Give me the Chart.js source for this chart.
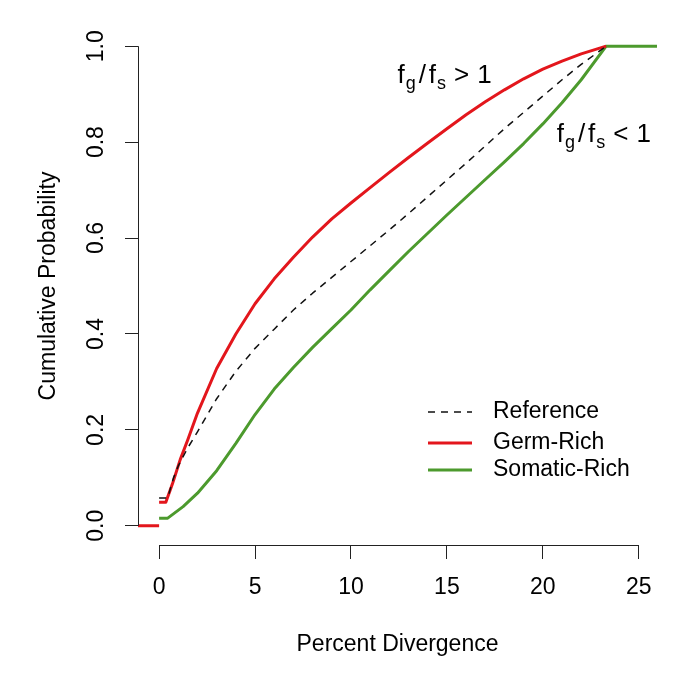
<!DOCTYPE html>
<html>
<head>
<meta charset="utf-8">
<script src="https://cdn.jsdelivr.net/npm/chart.js@4.4.1/dist/chart.umd.min.js"></script>
<style>
  html, body { margin: 0; padding: 0; background: #fff; }
  #wrap { width: 685px; height: 685px; }
</style>
</head>
<body>
<div id="wrap"><canvas id="ecdfChart"></canvas></div>
<script>
const xTicks = [0, 5, 10, 15, 20, 25]
const xTickLabels = ['0', '5', '10', '15', '20', '25']
const yTicks = [0, 0.2, 0.4, 0.6, 0.8, 1.0]
const yTickLabels = ['0.0', '0.2', '0.4', '0.6', '0.8', '1.0']

const seriesNames = ['Reference', 'Germ-Rich', 'Somatic-Rich']

// percent divergence (x) vs cumulative probability (y)
const refX = [0, 0.45, 0.75, 1, 1.5, 2, 3, 4, 5, 6, 7, 8, 9, 10, 11, 12, 13, 14, 15, 16, 17, 18, 19, 20, 21, 22, 23.3]
const refY = [0.058, 0.058, 0.1, 0.125, 0.163, 0.196, 0.265, 0.322, 0.37, 0.41, 0.45, 0.485, 0.518, 0.551, 0.584, 0.617, 0.651, 0.686, 0.721, 0.756, 0.792, 0.828, 0.862, 0.896, 0.93, 0.962, 1.0]

const germFloorX = [-1.1, 0]
const germFloorY = [0, 0]
const germX = [0, 0.35, 0.7, 1.1, 1.5, 2, 3, 4, 5, 6, 7, 8, 9, 10, 11, 12, 13, 14, 15, 16, 17, 18, 19, 20, 21, 22, 23.3]
const germY = [0.049, 0.049, 0.088, 0.138, 0.18, 0.235, 0.328, 0.4, 0.463, 0.515, 0.56, 0.602, 0.64, 0.673, 0.705, 0.737, 0.768, 0.798, 0.828, 0.857, 0.884, 0.909, 0.932, 0.952, 0.969, 0.984, 1.0]

const somX = [0, 0.45, 1.25, 2, 3, 4, 5, 6, 7, 8, 9, 10, 11, 12, 13, 14, 15, 16, 17, 18, 19, 20, 21, 22, 23.3, 25.95]
const somY = [0.016, 0.016, 0.04, 0.068, 0.115, 0.172, 0.232, 0.285, 0.33, 0.372, 0.411, 0.45, 0.492, 0.532, 0.572, 0.61, 0.648, 0.685, 0.722, 0.759, 0.797, 0.838, 0.882, 0.93, 1.0, 1.0]

const FONT = '"Liberation Sans", Arial, Helvetica, sans-serif'
const axisFont = { family: FONT, size: 23 }

const toPoints = (xs, ys) => xs.map((x, i) => ({ x: x, y: ys[i] }))

// R-style axis lines: only from first to last tick
const rAxes = {
  id: 'rAxes',
  afterDraw(chart) {
    const { ctx, chartArea, scales: { x, y } } = chart
    ctx.save()
    ctx.strokeStyle = '#222'
    ctx.lineWidth = 1
    ctx.beginPath()
    const by = Math.round(chartArea.bottom) + 0.5
    ctx.moveTo(x.getPixelForValue(xTicks[0]), by)
    ctx.lineTo(x.getPixelForValue(xTicks[xTicks.length - 1]), by)
    const lx = Math.round(chartArea.left) + 0.5
    ctx.moveTo(lx, y.getPixelForValue(yTicks[0]))
    ctx.lineTo(lx, y.getPixelForValue(yTicks[yTicks.length - 1]))
    ctx.stroke()
    ctx.restore()
  }
}

const insetLegend = {
  id: 'insetLegend',
  afterDraw(chart) {
    const ctx = chart.ctx
    const rows = [412, 443, 470]
    chart.data.datasets.forEach((ds, i) => {
      ctx.save()
      ctx.strokeStyle = ds.borderColor
      ctx.lineWidth = ds.borderWidth
      ctx.setLineDash(ds.borderDash || [])
      ctx.beginPath()
      ctx.moveTo(428, rows[i])
      ctx.lineTo(472, rows[i])
      ctx.stroke()
      ctx.setLineDash([])
      ctx.fillStyle = '#000'
      ctx.font = '23px ' + FONT
      ctx.textBaseline = 'middle'
      ctx.fillText(ds.label, 493, rows[i])
      ctx.restore()
    })
  }
}

// f_g / f_s > 1 style labels, pieces placed one after another
function drawRatio(ctx, x0, y0, rel) {
  const big = '26px ' + FONT
  const small = '18px ' + FONT
  // text, font, baseline shift, gap after
  const parts = [
    ['f', big, 0, 1], ['g', small, 6, 3], ['/', big, 0, 3],
    ['f', big, 0, 1], ['s', small, 6, 8], [rel, big, 0, 8], ['1', big, 0, 0]
  ]
  ctx.fillStyle = '#000'
  ctx.textBaseline = 'alphabetic'
  let cx = x0
  parts.forEach(([t, f, dy, gap]) => {
    ctx.font = f
    ctx.fillText(t, cx, y0 + dy)
    cx += ctx.measureText(t).width + gap
  })
}

const ratioLabels = {
  id: 'ratioLabels',
  afterDraw(chart) {
    const { ctx, scales: { x, y } } = chart
    ctx.save()
    drawRatio(ctx, x.getPixelForValue(12.42), y.getPixelForValue(0.924), '>')
    drawRatio(ctx, x.getPixelForValue(20.72), y.getPixelForValue(0.801), '<')
    ctx.restore()
  }
}

const canvas = document.getElementById('ecdfChart')
window.ecdfChart = new Chart(canvas, {
  type: 'line',
  data: {
    datasets: [
      {
        label: seriesNames[0],
        data: toPoints(refX, refY),
        borderColor: '#111',
        borderWidth: 1.5,
        borderDash: [7, 6],
      },
      {
        label: seriesNames[1],
        data: toPoints(germFloorX, germFloorY).concat([{ x: 0, y: null }], toPoints(germX, germY)),
        borderColor: '#e3161c',
        borderWidth: 3,
      },
      {
        label: seriesNames[2],
        data: toPoints(somX, somY),
        borderColor: '#4c9a2d',
        borderWidth: 3,
      },
    ],
  },
  options: {
    responsive: true,
    maintainAspectRatio: false,
    animation: false,
    layout: { padding: { top: 27, right: 28, left: 0, bottom: 0 } },
    elements: { point: { radius: 0 }, line: { tension: 0, borderJoinStyle: 'round' } },
    plugins: { legend: { display: false }, tooltip: { enabled: false } },
    scales: {
      x: {
        type: 'linear',
        min: -1.1,
        max: 25.95,
        afterBuildTicks: s => { s.ticks = xTicks.map(v => ({ value: v })) },
        afterFit: s => { s.height = 140 },
        grid: { drawOnChartArea: false, drawTicks: true, tickLength: 14, color: '#222', tickColor: '#222' },
        border: { display: false },
        ticks: {
          callback: (v, i) => xTickLabels[i],
          font: axisFont, color: '#000', padding: 15,
          maxRotation: 0, autoSkip: false,
        },
        title: { display: true, text: 'Percent Divergence', font: axisFont, color: '#000', padding: { top: 0, bottom: 27 } },
      },
      y: {
        type: 'linear',
        min: -0.04,
        max: 1.04,
        afterBuildTicks: s => { s.ticks = yTicks.map(v => ({ value: v })) },
        afterFit: s => { s.width = 138 },
        grid: { drawOnChartArea: false, drawTicks: true, tickLength: 13, color: '#222', tickColor: '#222' },
        border: { display: false },
        ticks: {
          callback: (v, i) => yTickLabels[i],
          font: axisFont, color: '#000', padding: 12,
          minRotation: 90, maxRotation: 90, crossAlign: 'center', autoSkip: false,
        },
        title: { display: true, text: 'Cumulative Probability', font: axisFont, color: '#000', padding: { top: 35, bottom: 0 } },
      },
    },
  },
  plugins: [rAxes, insetLegend, ratioLabels],
})
</script>
</body>
</html>
